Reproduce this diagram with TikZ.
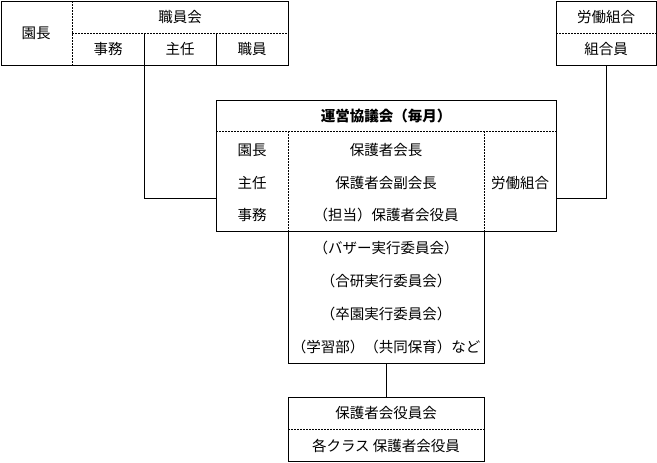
\documentclass[tikz,border=0pt]{standalone}
\usepackage{fontspec}
\setmainfont{Noto Sans CJK JP}
\tikzset{
  dsh/.style={dash pattern=on 2pt off 1pt},
  lbl/.style={inner sep=0pt, font=\fontsize{14.5}{16}\selectfont},
  ttl/.style={inner sep=0pt, font=\fontsize{14.5}{16}\selectfont\bfseries},
}
\begin{document}
\begin{tikzpicture}[x=1pt, y=-1pt, line width=0.9pt]
    \useasboundingbox (0,0) rectangle (657,463) ;
    % staff
    \draw (1,1) rectangle (288,65) ;
    \draw [dsh] (72,1) -- (72,65) ;
    \draw [dsh] (72,33) -- (288,33) ;
    \draw (144,33) -- (144,65) ;
    \draw (216,33) -- (216,65) ;
    \node [lbl] (encho) at (36,33) {園長} ;
    \node [lbl] (shokuinkai) at (180,17) {職員会} ;
    \node [lbl] (jimu) at (108,49) {事務} ;
    \node [lbl] (shunin) at (180,49) {主任} ;
    \node [lbl] (shokuin) at (252,49) {職員} ;
    % union
    \draw (556,1) rectangle (656,65) ;
    \draw [dsh] (556,33) -- (656,33) ;
    \node [lbl] (kumiai) at (606,17) {労働組合} ;
    \node [lbl] (kumiaiin) at (606,49) {組合員} ;
    % council
    \draw (216,100) rectangle (556,231) ;
    \draw [dsh] (216,131) -- (556,131) ;
    \draw [dsh] (288,131) -- (288,231) ;
    \draw [dsh] (484,131) -- (484,231) ;
    \draw (288,231) -- (288,363) -- (484,363) -- (484,231) ;
    \node [ttl] (kyogikai) at (386,116) {運営協議会（毎月）} ;
    \node [lbl] (c_encho) at (252,150) {園長} ;
    \node [lbl] (c_shunin) at (252,183) {主任} ;
    \node [lbl] (c_jimu) at (252,215) {事務} ;
    \node [lbl] (c_kumiai) at (520,183) {労働組合} ;
    \node [lbl] (p1) at (386,150) {保護者会長} ;
    \node [lbl] (p2) at (386,183) {保護者会副会長} ;
    \node [lbl] (p3) at (386,215) {（担当）保護者会役員} ;
    \node [lbl] (p4) at (386,248) {（バザー実行委員会）} ;
    \node [lbl] (p5) at (386,281) {（合研実行委員会）} ;
    \node [lbl] (p6) at (386,314) {（卒園実行委員会）} ;
    \node [lbl] (p7) at (386,347) {（学習部）（共同保育）など} ;
    % parents
    \draw (288,397) rectangle (484,461) ;
    \draw [dsh] (288,429) -- (484,429) ;
    \node [lbl] (yakuinkai) at (386,413) {保護者会役員会} ;
    \node [lbl] (yakuin) at (386,446) {各クラス 保護者会役員} ;
    % links
    \coordinate (a0) at (144,65) ;
    \coordinate (a1) at (216,198) ;
    \coordinate (b0) at (606,65) ;
    \coordinate (b1) at (556,198) ;
    \coordinate (c0) at (386,363) ;
    \coordinate (c1) at (386,397) ;
    \draw (a0) |- (a1) ;
    \draw (b0) |- (b1) ;
    \draw (c0) -- (c1) ;
\end{tikzpicture}
\end{document}
